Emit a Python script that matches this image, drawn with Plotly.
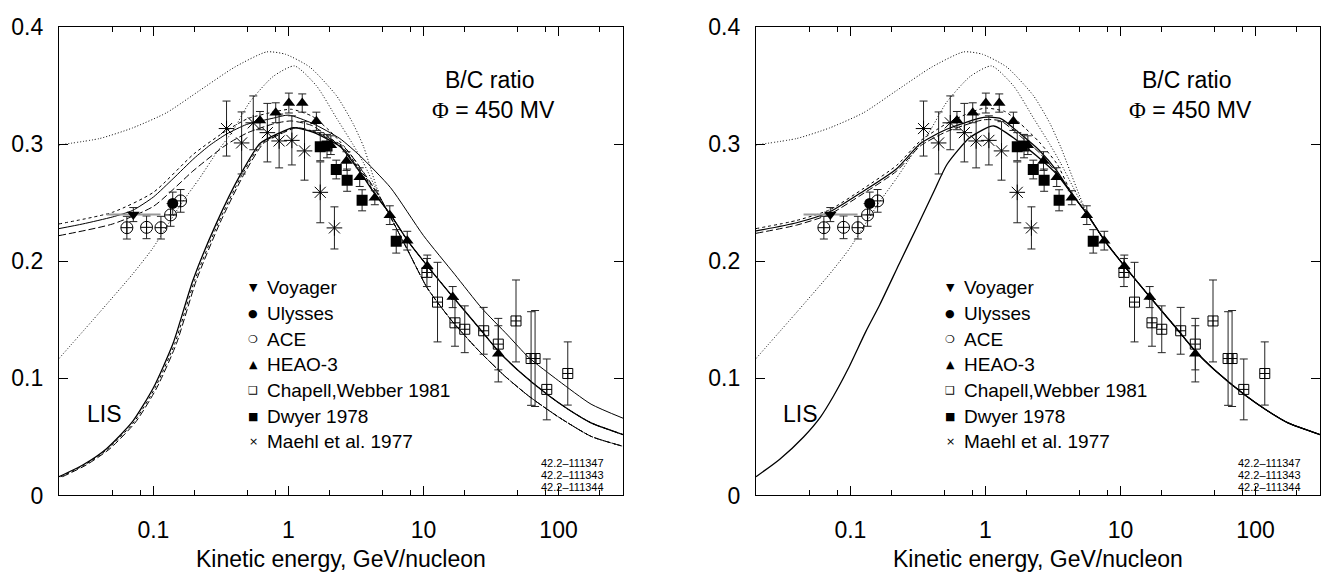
import plotly.graph_objects as go
import numpy as np

# ---------------- data points ----------------
voy_E = [0.071]; voy_y = [0.240]; voy_err = [0.006]; voy_xlo = [0.045]; voy_xhi = [0.113]
uly_E = [0.139]; uly_y = [0.2495]; uly_err = [0.0097]
ace_E = [0.0636, 0.089, 0.1137, 0.134, 0.159]
ace_y = [0.2288, 0.2291, 0.2288, 0.2397, 0.2517]
ace_err = [0.0097, 0.0097, 0.0097, 0.0097, 0.0097]
heao_E = [0.615, 0.805, 1.007, 1.265, 1.61, 2.06, 2.69, 3.37, 4.36, 5.63, 7.58, 10.67, 16.45, 35.8]
heao_y = [0.3203, 0.327, 0.3353, 0.3353, 0.3197, 0.2993, 0.2857, 0.272, 0.2544, 0.2395, 0.2177, 0.1959, 0.1695, 0.121]
heao_err = [0.0078, 0.0085, 0.0085, 0.0078, 0.0078, 0.008, 0.008, 0.008, 0.006, 0.008, 0.008, 0.0095, 0.009, 0.024]
cw_E = [10.6, 12.7, 17.1, 20.2, 27.9, 35.8, 48.4, 62.6, 67.0, 81.8, 117.0]
cw_y = [0.1905, 0.1652, 0.1475, 0.142, 0.1407, 0.1293, 0.1491, 0.117, 0.117, 0.0906, 0.1042]
cw_err = [0.012, 0.034, 0.02, 0.02, 0.02, 0.022, 0.035, 0.04, 0.041, 0.026, 0.027]
dw_E = [1.72, 1.93, 2.26, 2.72, 3.51, 6.28]
dw_y = [0.298, 0.2985, 0.2785, 0.2694, 0.2522, 0.2171]
dw_err = [0.012, 0.01, 0.008, 0.0095, 0.009, 0.01]
ma_E = [0.348, 0.450, 0.549, 0.698, 0.853, 1.06, 1.315, 1.72, 2.19]
ma_y = [0.3135, 0.3012, 0.3184, 0.310, 0.3029, 0.3034, 0.2944, 0.259, 0.2286]
ma_err = [0.0235, 0.0265, 0.023, 0.025, 0.023, 0.021, 0.025, 0.026, 0.018]

# ---------------- model curves ----------------
tail_E = [4.4, 5.7, 7.6, 10.7, 16.4, 25, 36, 50, 83, 120, 174, 300]
tail_y = [0.257, 0.240, 0.218, 0.196, 0.170, 0.145, 0.123, 0.107, 0.086, 0.073, 0.062, 0.052]
dotA_E = [0.02, 0.04, 0.07, 0.125, 0.22, 0.4, 0.69, 0.95, 1.44, 2.27, 3.0, 3.6]
dotA_y = [0.2995, 0.305, 0.314, 0.327, 0.346, 0.366, 0.379, 0.377, 0.366, 0.3415, 0.318, 0.298]
dotB_E = [0.02, 0.04, 0.07, 0.0986, 0.16, 0.219, 0.292, 0.388, 0.516, 0.77, 1.11, 1.62, 2.27, 3.0, 3.59]
dotB_y = [0.117, 0.1565, 0.189, 0.211, 0.249, 0.2708, 0.2925, 0.3116, 0.336, 0.358, 0.367, 0.3497, 0.3224, 0.300, 0.2843]
dotL_E = [4.8, 6.0, 7.6, 10.7, 16, 25, 40, 60, 100, 174, 300]
dotL_y = [0.254, 0.233, 0.210, 0.177, 0.150, 0.125, 0.102, 0.085, 0.067, 0.0505, 0.042]
modLs_E = [0.02, 0.03, 0.05, 0.07, 0.1, 0.14, 0.2, 0.262, 0.348, 0.49, 0.773, 1.0, 1.5, 2.4, 3.4, 5.7, 10, 17, 27, 42, 60, 100, 174, 300]
modLs_y = [0.228, 0.232, 0.238, 0.2435, 0.255, 0.2707, 0.288, 0.2993, 0.3088, 0.317, 0.3224, 0.325, 0.318, 0.305, 0.29, 0.263, 0.222, 0.189, 0.160, 0.137, 0.118, 0.098, 0.078, 0.066]
modLd_E = [0.02, 0.05, 0.1, 0.2, 0.35, 0.5, 0.8, 1.05, 1.5, 2.0, 2.6, 3.4]
modLd_y = [0.232, 0.242, 0.259, 0.292, 0.312, 0.322, 0.328, 0.330, 0.324, 0.312, 0.298, 0.28]
modLl_E = [0.02, 0.05, 0.1, 0.2, 0.35, 0.5, 0.8, 1.05, 1.5, 2.0, 2.6, 3.4]
modLl_y = [0.222, 0.232, 0.247, 0.278, 0.300, 0.310, 0.318, 0.320, 0.316, 0.306, 0.295, 0.277]
lisL_E = [0.02, 0.03, 0.045, 0.07, 0.1, 0.14, 0.196, 0.293, 0.4375, 0.615, 0.867, 1.09, 1.53, 2.42, 3.4]
lisL_y = [0.016, 0.026, 0.040, 0.063, 0.092, 0.13, 0.1837, 0.2327, 0.2735, 0.3007, 0.310, 0.3143, 0.3102, 0.298, 0.276]
modR_E = [0.02, 0.04, 0.07, 0.124, 0.219, 0.33, 0.516, 0.97, 1.3, 1.81, 2.5, 3.4]
modR_y = [0.226, 0.233, 0.2422, 0.2598, 0.279, 0.3007, 0.3129, 0.323, 0.322, 0.309, 0.295, 0.277]
modRd_E = [0.02, 0.04, 0.07, 0.124, 0.22, 0.33, 0.52, 0.8, 1.0, 1.4, 1.8, 2.5, 3.4]
modRd_y = [0.228, 0.235, 0.244, 0.262, 0.282, 0.303, 0.318, 0.328, 0.331, 0.328, 0.318, 0.302, 0.283]
lisR_E = [0.02, 0.03, 0.045, 0.06, 0.075, 0.096, 0.13, 0.165, 0.23, 0.31, 0.42, 0.52, 0.77, 1.15, 1.71, 2.4, 3.4]
lisR_y = [0.016, 0.031, 0.050, 0.067, 0.085, 0.108, 0.140, 0.163, 0.198, 0.229, 0.261, 0.283, 0.306, 0.3157, 0.3034, 0.29, 0.274]

x_ticks = [0.1, 1, 10, 100]
x_ticktext = ["0.1", "1", "10", "100"]
x_minor = [0.02, 0.05, 0.08, 0.2, 0.5, 0.8, 2, 5, 8, 20, 50, 80, 200]
y_ticks = [0, 0.1, 0.2, 0.3, 0.4]
y_ticktext = ["0", "0.1", "0.2", "0.3", "0.4"]
legend_labels = ["Voyager", "Ulysses", "ACE", "HEAO-3", "Chapell,Webber 1981", "Dwyer 1978", "Maehl et al. 1977"]
legend_glyphs = ["▼", "●", "❍", "▲", "❑", "■", "×"]
run_ids = ["42.2\u2013111347", "42.2\u2013111343", "42.2\u2013111344"]

FONT = "Liberation Sans, Arial, Helvetica, sans-serif"
W, H = 1327, 582
fig = go.Figure()

def line(E, y, dash, width, xa, ya):
    fig.add_trace(go.Scatter(x=E, y=y, mode="lines", xaxis=xa, yaxis=ya,
                             line=dict(color="black", width=width, dash=dash, shape="spline", smoothing=0.6),
                             showlegend=False, hoverinfo="skip"))

DOT = "1px,2px"
SDASH = "3px,3px"
LDASH = "7px,3px"

# left panel curves
line(dotA_E + dotL_E, dotA_y + dotL_y, DOT, 1, "x", "y")
line(dotB_E + dotL_E, dotB_y + dotL_y, DOT, 1, "x", "y")
line(modLs_E, modLs_y, "solid", 1, "x", "y")
line(modLd_E + tail_E, modLd_y + tail_y, SDASH, 1, "x", "y")
line(modLl_E + tail_E, modLl_y + tail_y, LDASH, 1, "x", "y")
line(lisL_E + tail_E, lisL_y + tail_y, "solid", 1.3, "x", "y")
line([e * 1.03 for e in lisL_E] + dotL_E, lisL_y + dotL_y, SDASH, 1, "x", "y")
line([e * 1.06 for e in lisL_E] + dotL_E, lisL_y + dotL_y, LDASH, 1, "x", "y")

# right panel curves
line(dotA_E + tail_E[1:], dotA_y + tail_y[1:], DOT, 1, "x2", "y2")
line(dotB_E + tail_E[1:], dotB_y + tail_y[1:], DOT, 1, "x2", "y2")
line(modR_E + tail_E, modR_y + tail_y, "solid", 1.2, "x2", "y2")
line(modRd_E + tail_E, modRd_y + tail_y, SDASH, 1, "x2", "y2")
line(modR_E + tail_E, [v - 0.002 for v in modR_y] + tail_y, LDASH, 1, "x2", "y2")
line(lisR_E + tail_E, lisR_y + tail_y, "solid", 1.3, "x2", "y2")

EB = dict(color="#222", thickness=1, width=4)

def data(xa, ya):
    fig.add_trace(go.Scatter(x=ma_E, y=ma_y, mode="markers", xaxis=xa, yaxis=ya, showlegend=False,
                             error_y=dict(type="data", array=ma_err, **EB),
                             marker=dict(symbol="asterisk-open", size=13, color="black", line=dict(width=1, color="black"))))
    fig.add_trace(go.Scatter(x=cw_E, y=cw_y, mode="markers", xaxis=xa, yaxis=ya, showlegend=False,
                             error_y=dict(type="data", array=cw_err, **EB),
                             marker=dict(symbol="square-cross-open", size=10, color="black", line=dict(width=1, color="black"))))
    fig.add_trace(go.Scatter(x=ace_E, y=ace_y, mode="markers", xaxis=xa, yaxis=ya, showlegend=False,
                             error_y=dict(type="data", array=ace_err, **EB),
                             marker=dict(symbol="circle-cross-open", size=12, color="black", line=dict(width=1, color="black"))))
    fig.add_trace(go.Scatter(x=voy_E, y=voy_y, mode="markers", xaxis=xa, yaxis=ya, showlegend=False,
                             error_y=dict(type="data", array=voy_err, **EB),
                             error_x=dict(type="data", symmetric=False,
                                          array=[h - e for h, e in zip(voy_xhi, voy_E)],
                                          arrayminus=[e - l for l, e in zip(voy_xlo, voy_E)],
                                          color="#999", thickness=2, width=0),
                             marker=dict(symbol="triangle-down", size=11, color="black")))
    fig.add_trace(go.Scatter(x=uly_E, y=uly_y, mode="markers", xaxis=xa, yaxis=ya, showlegend=False,
                             error_y=dict(type="data", array=uly_err, **EB),
                             marker=dict(symbol="circle", size=11, color="black")))
    fig.add_trace(go.Scatter(x=dw_E, y=dw_y, mode="markers", xaxis=xa, yaxis=ya, showlegend=False,
                             error_y=dict(type="data", array=dw_err, **EB),
                             marker=dict(symbol="square", size=11, color="black")))
    fig.add_trace(go.Scatter(x=heao_E, y=heao_y, mode="markers", xaxis=xa, yaxis=ya, showlegend=False,
                             error_y=dict(type="data", array=heao_err, **EB),
                             marker=dict(symbol="triangle-up", size=11, color="black")))

data("x", "y")
data("x2", "y2")

XR = [np.log10(0.02), np.log10(300)]
L0, L1 = 59 / W, 623 / W
R0, R1 = 756 / W, 1320 / W
YB, YT = 1 - 505 / H, 1 - 15 / H

axis_common = dict(showline=True, linecolor="black", linewidth=1.3, mirror="ticks", ticks="inside",
                   tickcolor="black", showgrid=False, zeroline=False,
                   tickfont=dict(family=FONT, size=23, color="black"))
xax = dict(type="log", range=XR, tickvals=x_ticks, ticktext=x_ticktext, ticklen=9, tickwidth=1,
           minor=dict(tickvals=x_minor, ticklen=5, ticks="inside", tickcolor="black", tickwidth=1, showgrid=False),
           ticklabelstandoff=14, **axis_common)
yax = dict(range=[0, 0.4], tickvals=y_ticks, ticktext=y_ticktext, ticklen=9, tickwidth=1,
           ticklabelstandoff=10, **axis_common)

fig.update_layout(
    width=W, height=H, margin=dict(l=0, r=0, t=0, b=0),
    paper_bgcolor="white", plot_bgcolor="white", showlegend=False,
    xaxis=dict(domain=[L0, L1], anchor="y", **xax),
    yaxis=dict(domain=[YB, YT], anchor="x", **yax),
    xaxis2=dict(domain=[R0, R1], anchor="y2", **xax),
    yaxis2=dict(domain=[YB, YT], anchor="x2", **yax),
)

ann = []
for off in [0, 697]:
    ann.append(dict(text="Kinetic energy, GeV/nucleon", x=(341 + off) / W, y=1 - 572 / H, xref="paper", yref="paper",
                    showarrow=False, xanchor="center", yanchor="middle", font=dict(family=FONT, size=23, color="black")))
    ann.append(dict(text="B/C ratio", x=(443 + off) / W, y=1 - 70 / H, xref="paper", yref="paper",
                    showarrow=False, xanchor="left", yanchor="middle", font=dict(family=FONT, size=23, color="black")))
    ann.append(dict(text="<span style='font-family:Liberation Serif,Times New Roman,serif'>\u03a6</span> = 450 MV",
                    x=(430 + off) / W, y=1 - 102 / H, xref="paper", yref="paper",
                    showarrow=False, xanchor="left", yanchor="middle", font=dict(family=FONT, size=23, color="black")))
    ann.append(dict(text="LIS", x=(104 + off) / W, y=1 - 420 / H, xref="paper", yref="paper",
                    showarrow=False, xanchor="center", yanchor="middle", font=dict(family=FONT, size=23, color="black")))
    for i, (g, lab) in enumerate(zip(legend_glyphs, legend_labels)):
        yy = 1 - (287.5 + 26.9 * i) / H
        ann.append(dict(text=g, x=(253 + off) / W, y=yy, xref="paper", yref="paper", showarrow=False,
                        xanchor="center", yanchor="middle", font=dict(family="DejaVu Sans", size=11, color="black")))
        ann.append(dict(text=lab, x=(265 + off) / W, y=yy, xref="paper", yref="paper", showarrow=False,
                        xanchor="left", yanchor="middle", font=dict(family=FONT, size=19, color="black")))
    for j, rid in enumerate(run_ids):
        ann.append(dict(text=rid, x=(539 + off) / W, y=1 - (471 + 12.5 * j) / H, xref="paper", yref="paper",
                        showarrow=False, xanchor="left", yanchor="middle", font=dict(family=FONT, size=11, color="black")))
fig.update_layout(annotations=ann)

fig.write_html("out.html")
